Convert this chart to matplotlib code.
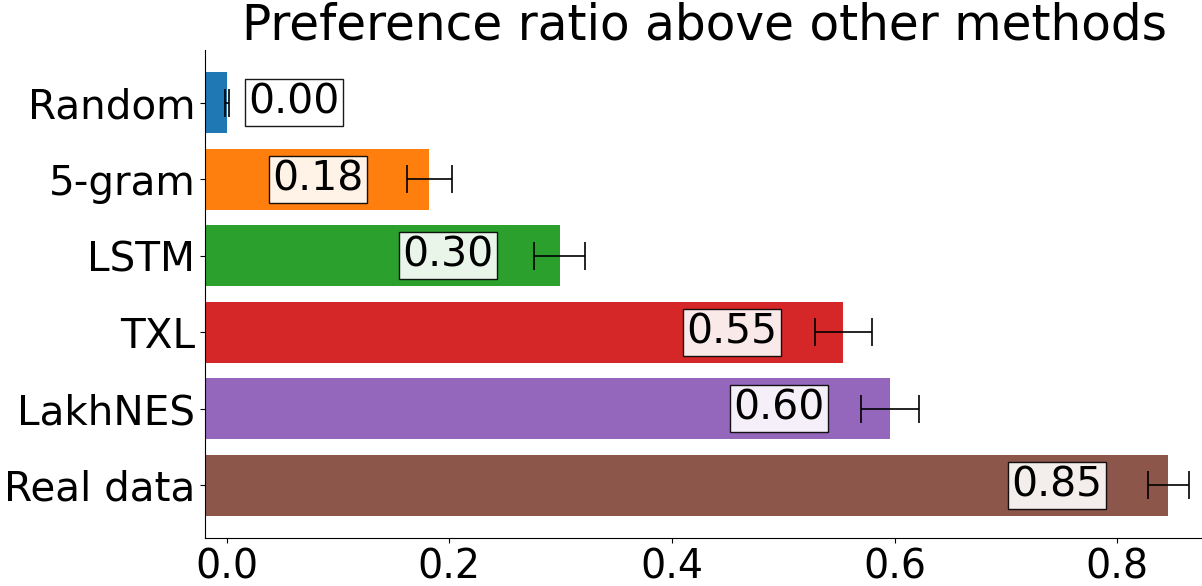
import matplotlib
matplotlib.use("Agg")
import matplotlib.pyplot as plt
import numpy as np

methods = ["Random", "5-gram", "LSTM", "TXL", "LakhNES", "Real data"]
values = np.array([0.0, 0.182, 0.299, 0.554, 0.596, 0.846])
errors = np.array([0.002, 0.020, 0.023, 0.026, 0.026, 0.018])
labels = ["0.00", "0.18", "0.30", "0.55", "0.60", "0.85"]
colors = ["#1f77b4", "#ff7f0e", "#2ca02c", "#d62728", "#9467bd", "#8c564b"]

fig = plt.figure(figsize=(12.02, 5.86), dpi=100)
ax = fig.add_axes([205 / 1202, 48 / 586, 998 / 1202, 488 / 586])

x0 = -0.0196
y = np.arange(len(methods))
ax.barh(y, values - x0, left=x0, height=0.8, color=colors,
        xerr=errors, capsize=10, error_kw=dict(ecolor="black", elinewidth=1.2, capthick=1.2))
for i, (v, lab) in enumerate(zip(values, labels)):
    cx = v - 0.1 if v > 0.15 else 0.06
    ax.text(cx, i, lab, ha="center", va="center", fontsize=29.5,
            bbox=dict(facecolor="white", alpha=0.9, edgecolor="black", pad=2.5, linewidth=1))

ax.set_yticks(y)
ax.set_yticklabels(methods, fontsize=29.2)
ax.invert_yaxis()
ax.set_xlim(x0, 0.877)
ax.set_xticks([0.0, 0.2, 0.4, 0.6, 0.8])
ax.set_xticklabels(["0.0", "0.2", "0.4", "0.6", "0.8"], fontsize=28.5)
ax.spines["top"].set_visible(False)
ax.spines["right"].set_visible(False)
ax.set_title("Preference ratio above other methods", fontsize=35, pad=4)

fig.savefig("out.png", dpi=100)
